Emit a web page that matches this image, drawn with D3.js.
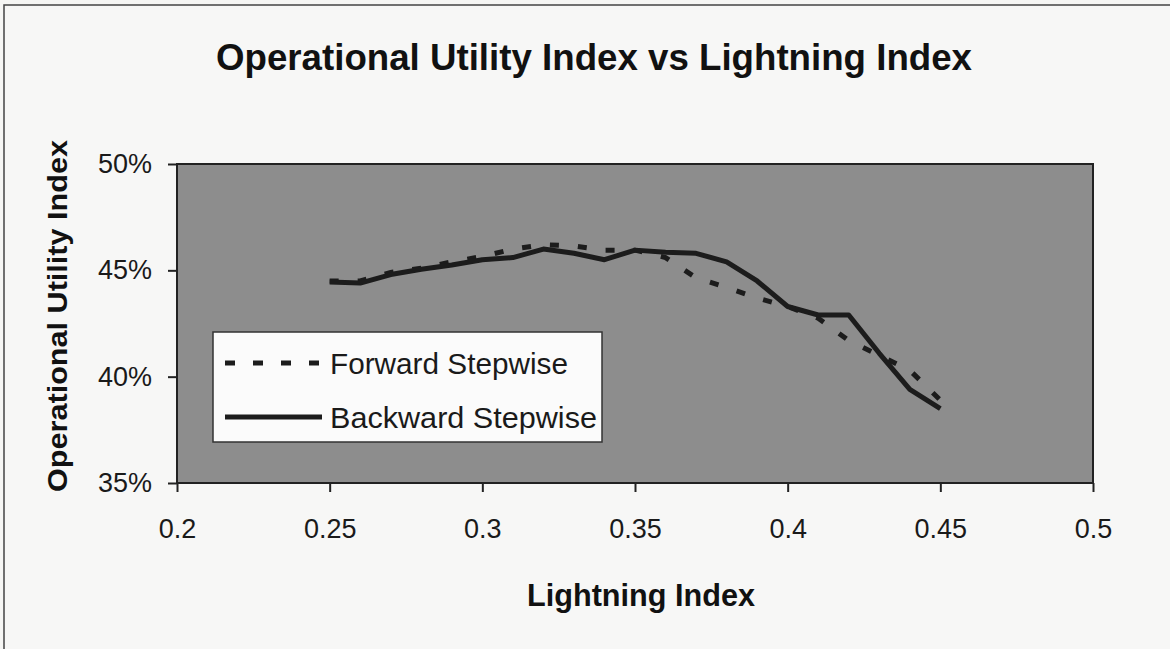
<!DOCTYPE html>
<html>
<head>
<meta charset="utf-8">
<script src="https://d3js.org/d3.v7.min.js"></script>
<style>
  body { margin: 0; background: #f6f6f4; }
  svg { display: block; font-family: "Liberation Sans", Arial, sans-serif; }
  .axis path, .axis line { fill: none; stroke: #222; stroke-width: 2; }
  .axis text { font-size: 27px; fill: #1a1a1a; }
</style>
</head>
<body>
<script>
// data
var lightning = [0.25, 0.26, 0.27, 0.28, 0.29, 0.30, 0.31, 0.32, 0.33, 0.34, 0.35,
                 0.36, 0.37, 0.38, 0.39, 0.40, 0.41, 0.42, 0.43, 0.44, 0.45];
var forward  = [44.5, 44.5, 44.9, 45.1, 45.4, 45.65, 46.0, 46.2, 46.15, 45.95, 45.95,
                45.6, 44.65, 44.2, 43.7, 43.3, 42.75, 41.7, 41.0, 40.3, 38.9];
var backward = [44.45, 44.4, 44.8, 45.05, 45.25, 45.5, 45.6, 46.0, 45.8, 45.5, 45.95,
                45.85, 45.8, 45.4, 44.5, 43.3, 42.9, 42.9, 41.1, 39.4, 38.5];
var xTicks = [0.2, 0.25, 0.3, 0.35, 0.4, 0.45, 0.5];
var yTicks = [35, 40, 45, 50];
var seriesNames = ["Forward Stepwise", "Backward Stepwise"];

var width = 1170, height = 649;
var margin = {top: 164, right: 77, bottom: 166, left: 177};

var svg = d3.select("body").append("svg")
    .attr("width", width)
    .attr("height", height);

// outer chart frame (only top/left visible in the crop)
svg.append("rect")
    .attr("x", 4).attr("y", 5)
    .attr("width", width + 20).attr("height", height + 20)
    .attr("fill", "#f7f7f6")
    .attr("stroke", "#444").attr("stroke-width", 1.5);

var x = d3.scaleLinear().domain([0.2, 0.5]).range([margin.left, width - margin.right]);
var y = d3.scaleLinear().domain([35, 50]).range([height - margin.bottom, margin.top]);

// plot area
svg.append("rect")
    .attr("x", x(0.2)).attr("y", y(50))
    .attr("width", x(0.5) - x(0.2)).attr("height", y(35) - y(50))
    .attr("fill", "#8d8d8d")
    .attr("stroke", "#222").attr("stroke-width", 2);

var xAxis = d3.axisBottom(x).tickValues(xTicks).tickSize(9).tickPadding(27)
    .tickFormat(function(d) { return String(+d.toFixed(2)); });
svg.append("g").attr("class", "axis")
    .attr("transform", "translate(0," + y(35) + ")")
    .call(xAxis)
    .call(function(g) { g.select(".domain").remove(); })
    .selectAll("text").attr("dy", "0.71em");

var yAxis = d3.axisLeft(y).tickValues(yTicks).tickSize(9).tickPadding(16)
    .tickFormat(function(d) { return d + "%"; });
svg.append("g").attr("class", "axis")
    .attr("transform", "translate(" + x(0.2) + ",0)")
    .call(yAxis)
    .call(function(g) { g.select(".domain").remove(); })
    .selectAll("text").style("font-size", "27px");

var line = d3.line()
    .x(function(d) { return x(d[0]); })
    .y(function(d) { return y(d[1]); });

svg.append("path")
    .datum(d3.zip(lightning, forward))
    .attr("d", line)
    .attr("fill", "none")
    .attr("stroke", "#1c1c1c")
    .attr("stroke-width", 5)
    .attr("stroke-dasharray", "9,19");

svg.append("path")
    .datum(d3.zip(lightning, backward))
    .attr("d", line)
    .attr("fill", "none")
    .attr("stroke", "#1c1c1c")
    .attr("stroke-width", 5)
    .attr("stroke-linejoin", "round");

// title
svg.append("text")
    .attr("x", 216).attr("y", 70)
    .attr("textLength", 756).attr("lengthAdjust", "spacingAndGlyphs")
    .style("font-size", "37px").style("font-weight", "bold").attr("fill", "#111")
    .text("Operational Utility Index vs Lightning Index");

// axis titles
svg.append("text")
    .attr("x", 527).attr("y", 606)
    .attr("textLength", 228).attr("lengthAdjust", "spacingAndGlyphs")
    .style("font-size", "32px").style("font-weight", "bold").attr("fill", "#111")
    .text("Lightning Index");

svg.append("text")
    .attr("transform", "translate(67,492) rotate(-90)")
    .attr("textLength", 352).attr("lengthAdjust", "spacingAndGlyphs")
    .style("font-size", "28px").style("font-weight", "bold").attr("fill", "#111")
    .text("Operational Utility Index");

// legend
var legend = svg.append("g");
legend.append("rect")
    .attr("x", 213).attr("y", 332).attr("width", 389).attr("height", 110)
    .attr("fill", "#fbfbfb").attr("stroke", "#333").attr("stroke-width", 1.5);

var legendRows = [
  {name: seriesNames[0], y: 363, dash: "10,18", textLen: 238},
  {name: seriesNames[1], y: 417, dash: null, textLen: 267}
];
legendRows.forEach(function(r) {
  legend.append("line")
      .attr("x1", 225).attr("x2", 322).attr("y1", r.y).attr("y2", r.y)
      .attr("stroke", "#1c1c1c").attr("stroke-width", 5)
      .attr("stroke-dasharray", r.dash);
  legend.append("text")
      .attr("x", 330).attr("y", r.y + 11)
      .attr("textLength", r.textLen).attr("lengthAdjust", "spacingAndGlyphs")
      .style("font-size", "30px").attr("fill", "#1a1a1a")
      .text(r.name);
});
</script>
</body>
</html>
